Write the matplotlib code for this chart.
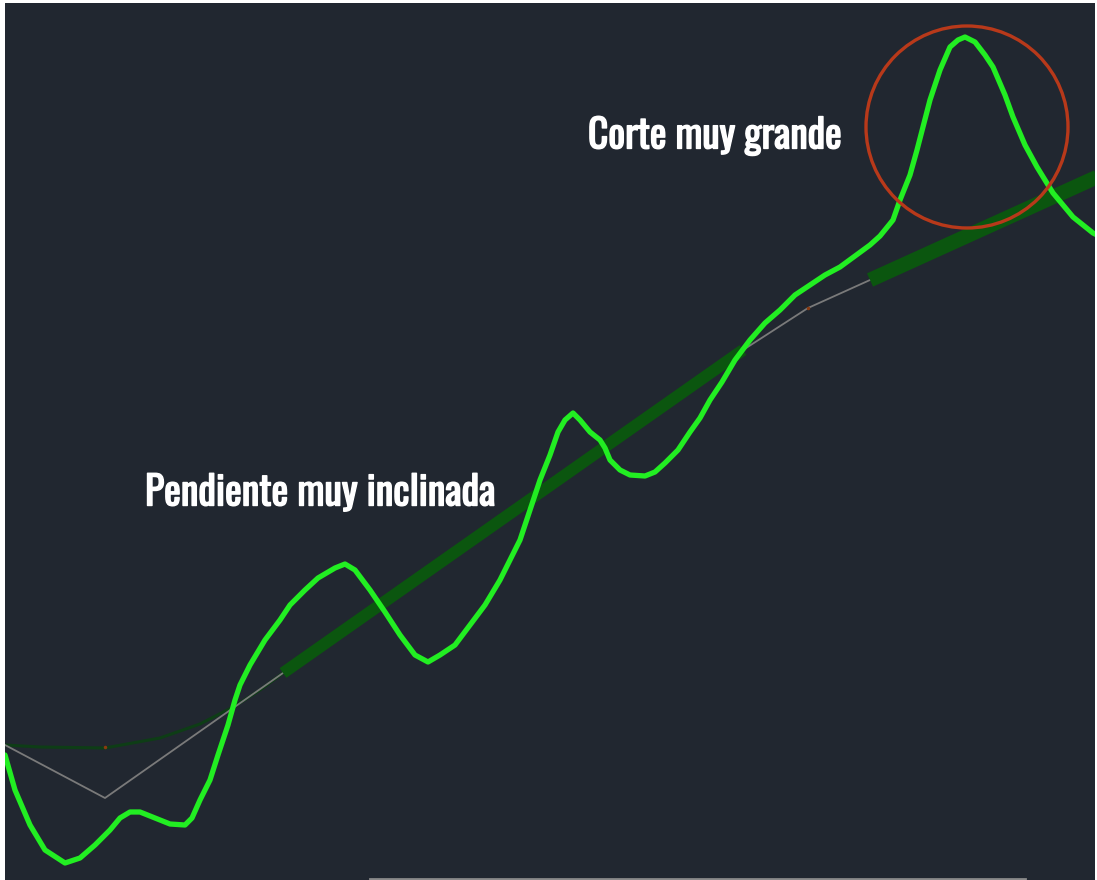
import matplotlib
matplotlib.use("Agg")
import matplotlib.pyplot as plt
import matplotlib.patheffects as pe
from matplotlib import font_manager
from matplotlib.patches import Circle

# ── Data (pixel-like coordinates, y grows downward) ─────────────────────
price_x = [5, 15, 30, 45, 65, 80, 95, 110, 120, 130, 140, 155, 170, 185, 192,
           200, 210, 218, 228, 235, 240, 250, 265, 280, 290, 305, 318, 335, 345,
           355, 370, 385, 400, 415, 428, 440, 455, 470, 485, 500, 510, 520, 530,
           540, 550, 558, 565, 573, 580, 590, 600, 605, 610, 620, 630, 645, 655,
           665, 678, 690, 700, 710, 722, 735, 750, 765, 780, 795, 810, 825, 840,
           855, 870, 880, 893, 900, 910, 917, 930, 940, 950, 958, 965, 975, 985,
           993, 1005, 1013, 1025, 1037, 1053, 1073, 1093, 1097]
price_y = [755, 790, 825, 850, 863, 858, 845, 830, 818, 812, 812, 818, 824, 825, 818,
           800, 780, 755, 725, 700, 685, 665, 640, 620, 605, 590, 578, 568, 564,
           570, 590, 612, 635, 655, 662, 655, 645, 625, 605, 580, 560, 540, 510,
           480, 455, 432, 420, 413, 420, 432, 440, 448, 460, 470, 475, 476, 472,
           463, 450, 432, 418, 400, 382, 360, 340, 323, 310, 295, 285, 275, 267,
           256, 245, 236, 220, 200, 175, 150, 100, 70, 47, 40, 37, 42, 55,
           67, 95, 117, 145, 167, 193, 217, 233, 235]

trend_a_x = [283, 743]
trend_a_y = [673, 350]
trend_b_x = [870, 1097]
trend_b_y = [280, 177]

zigzag_x = [5, 105, 283, 743, 808, 870]
zigzag_y = [745, 798, 673, 350, 308, 280]

curve_x = [5, 40, 105, 160, 200, 235, 260, 283]
curve_y = [745, 747, 748, 738, 724, 706, 690, 673]

circle_center = (967, 127)
circle_radius = 101

labels = ["Corte muy grande", "Pendiente muy inclinada"]
label_pos = [(588, 136), (145, 493)]
label_width = [255, 352]

# ── Font: prefer a narrow/condensed face if one is installed ───────────
names = {f.name for f in font_manager.fontManager.ttflist}
narrow = [n for n in ("Oswald", "Liberation Sans Narrow", "Roboto Condensed",
                      "Open Sans Condensed") if n in names]
family = narrow + ["DejaVu Sans"]
stretch = "normal" if narrow else "condensed"

# ── Figure ──────────────────────────────────────────────────────────────
W, H = 1097, 880
fig = plt.figure(figsize=(W / 100, H / 100), dpi=100, facecolor="white")
ax = fig.add_axes([5 / W, 0, 1090 / W, 877 / H])
ax.set_facecolor("#212730")
ax.set_xlim(5, 1095)
ax.set_ylim(880, 3)
ax.axis("off")
ax.add_patch(plt.Rectangle((5, 3), 1090, 877, color="#212730", zorder=0))

ax.plot(curve_x, curve_y, color="#0e3d16", lw=2.2, zorder=1)
ax.plot(zigzag_x, zigzag_y, color="#7a7a7a", lw=1.3, zorder=2)
ax.plot(trend_a_x, trend_a_y, color="#0b560f", lw=8.5, solid_capstyle="butt", zorder=3)
ax.plot(trend_b_x, trend_b_y, color="#0b560f", lw=10.5, solid_capstyle="butt", zorder=3)
ax.plot([105, 808], [747, 308], "o", color="#8a3a10", ms=1.5, zorder=2)
ax.plot(price_x, price_y, color="#22ee22", lw=3.8, solid_joinstyle="round",
        solid_capstyle="round", zorder=4)

ax.add_patch(Circle(circle_center, circle_radius, fill=False, ec="#b8391a",
                    lw=2.4, zorder=5))

# the condensed face has no bold file here, so a thin white stroke fakes the weight
renderer = fig.canvas.get_renderer()
for txt, (x, y), target in zip(labels, label_pos, label_width):
    t = ax.text(x, y, txt, color="white", fontsize=25, fontweight="bold",
                family=family, fontstretch=stretch,
                ha="left", va="center", zorder=6,
                path_effects=[pe.withStroke(linewidth=1.0, foreground="white")])
    w = t.get_window_extent(renderer).width
    t.set_fontsize(25 * (target - 1) / w)

ax.plot([370, 1025], [879, 879], color="#8a8a8a", lw=2, zorder=6, clip_on=False)

fig.savefig("out.png", dpi=100, facecolor="white")
